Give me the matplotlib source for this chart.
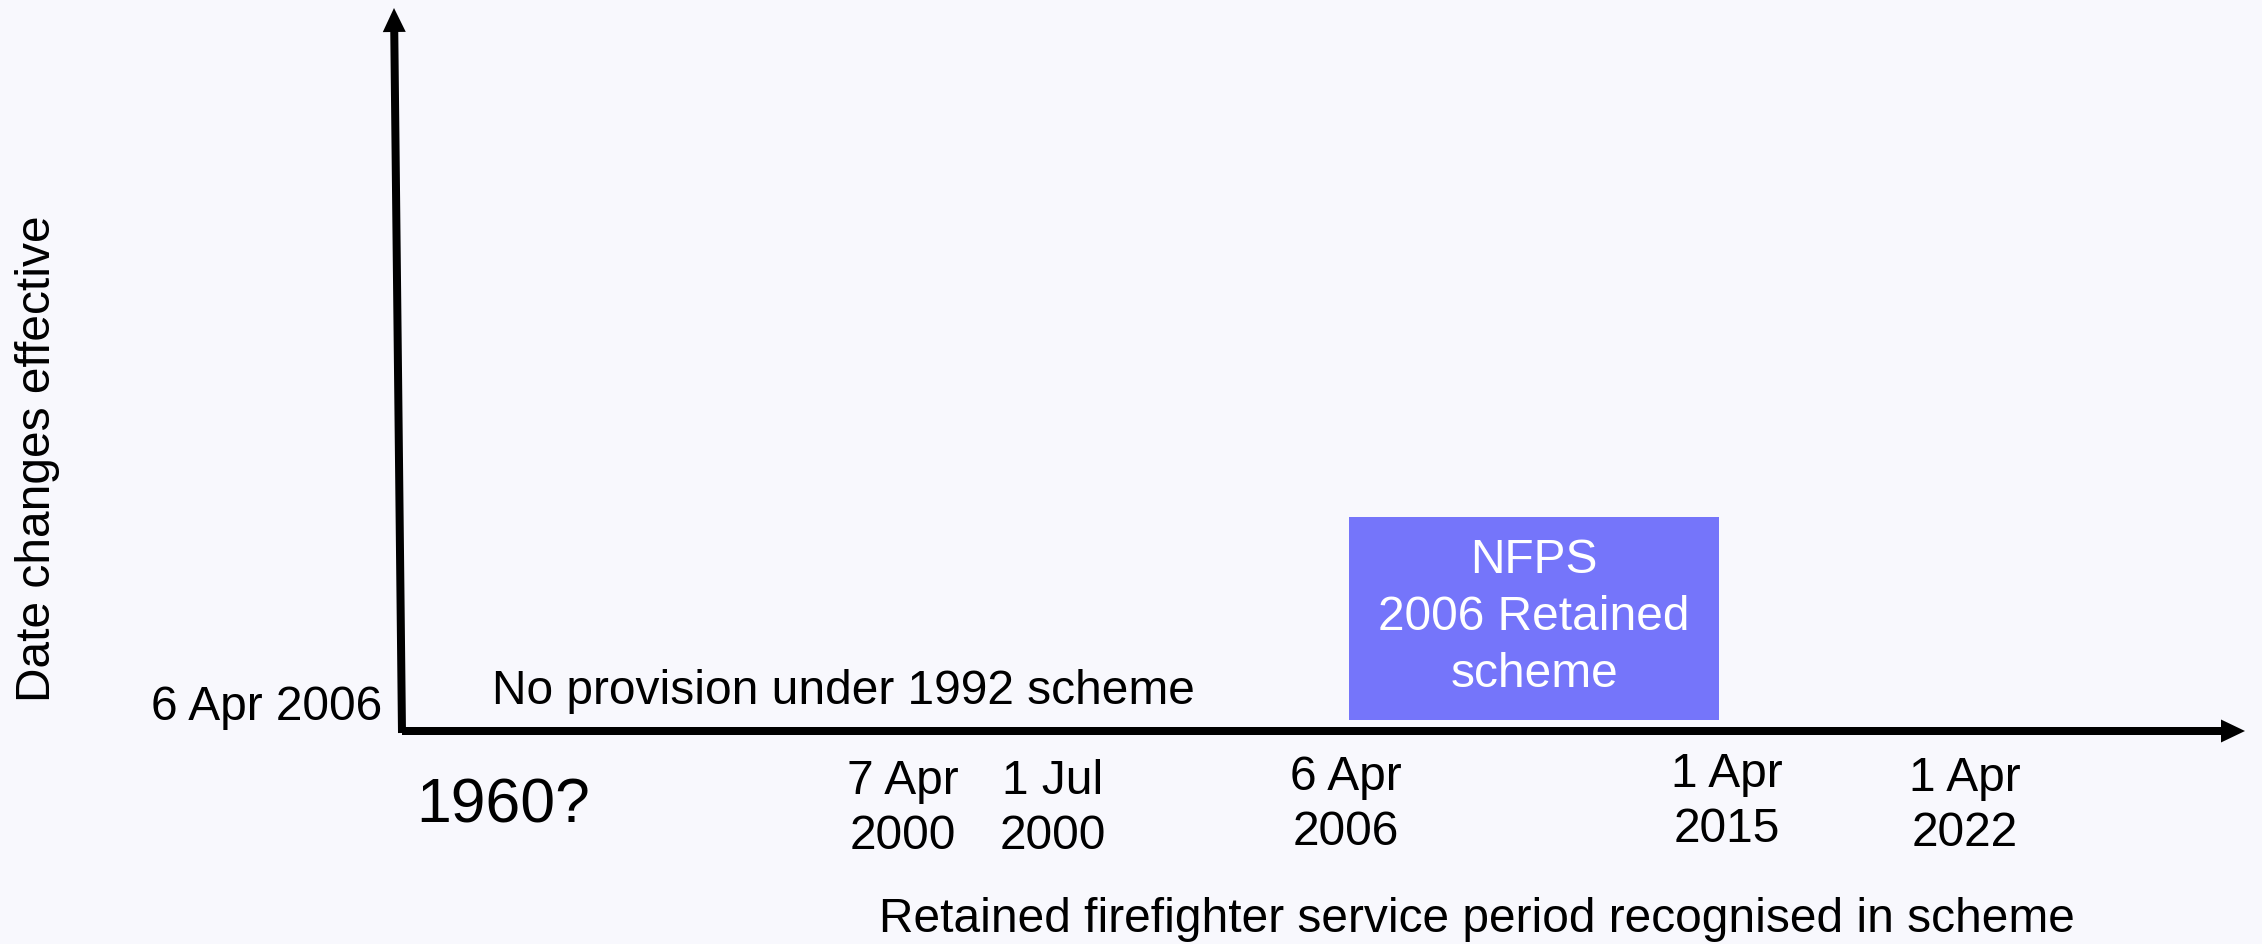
import matplotlib.pyplot as plt
from matplotlib.patches import FancyArrow, Rectangle

plt.rcParams['font.family'] = ['Liberation Sans', 'DejaVu Sans']

# timeline dates along the bottom axis (x position in pixels, label)
tick_labels = ['7 Apr\n2000', '1 Jul\n2000', '6 Apr\n2006', '1 Apr\n2015', '1 Apr\n2022']
tick_x = [903, 1053, 1346, 1727, 1965]
tick_y = [809, 809, 805, 802, 806]

y_label_text = '6 Apr 2006'
start_label = '1960?'
no_provision = 'No provision under 1992 scheme'
box_text = 'NFPS\n2006 Retained\nscheme'
x_title = 'Retained firefighter service period recognised in scheme'
y_title = 'Date changes effective'

# NFPS box extent (x0, x1, y0, y1)
box_x = [1349, 1719]
box_y = [517, 720]

W, H = 2262, 944
bg = '#f8f8fd'
fs = 34.5

fig = plt.figure(figsize=(W / 100, H / 100), dpi=100, facecolor=bg)
ax = fig.add_axes([0, 0, 1, 1])
ax.set_xlim(0, W)
ax.set_ylim(H, 0)
ax.axis('off')
ax.set_facecolor(bg)

# axes arrows
ax.add_patch(FancyArrow(402, 731, 2245 - 402, 0, width=8, head_width=23,
                        head_length=24, length_includes_head=True,
                        color='black', lw=0))
ax.add_patch(FancyArrow(402, 733, -8, 8 - 733, width=8, head_width=23,
                        head_length=24, length_includes_head=True,
                        color='black', lw=0))

# NFPS box
ax.add_patch(Rectangle((box_x[0], box_y[0]), box_x[1] - box_x[0], box_y[1] - box_y[0],
                       facecolor='#7575fa', edgecolor='none'))
ax.text(sum(box_x) / 2, (box_y[0] + box_y[1]) / 2 - 1, box_text, color='white',
        fontsize=fs, ha='center', va='center', linespacing=1.34)

for lab, x, y in zip(tick_labels, tick_x, tick_y):
    ax.text(x, y, lab, fontsize=fs, ha='center', va='center', linespacing=1.3)

ax.text(382, 707, y_label_text, fontsize=fs, ha='right', va='center')
ax.text(416, 806, start_label, fontsize=45, ha='left', va='center')
ax.text(492, 691, no_provision, fontsize=fs, ha='left', va='center')
ax.text(1477, 919, x_title, fontsize=fs, ha='center', va='center')
ax.text(38, 459, y_title, fontsize=fs, ha='center', va='center', rotation=90)

fig.savefig('out.png', dpi=100, facecolor=bg)
